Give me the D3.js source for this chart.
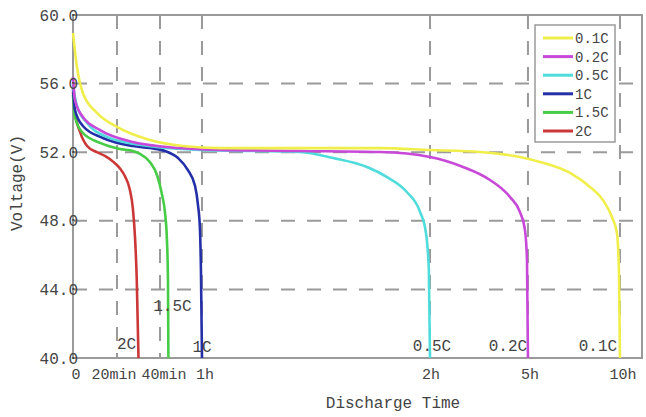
<!DOCTYPE html>
<html><head><meta charset="utf-8">
<script src="https://cdn.jsdelivr.net/npm/d3@7"></script>
<style>
html,body{margin:0;padding:0;background:#fff;}
svg{display:block;}
text{font-family:"Liberation Mono","DejaVu Sans Mono",monospace;fill:#444;}
</style></head>
<body><svg id="c" width="646" height="417"></svg>
<script>
// ---------- data ----------
const seriesNames = ["0.1C","0.2C","0.5C","1C","1.5C","2C"];
const seriesColors = ["#f0ee4a","#c848d8","#50dcdc","#2430a8","#46cc46","#cc3838"];
// [minutes, volts]
const v01C = [[0,58.95],[1.8,56.97],[4.5,55.45],[10.9,54.29],[20,53.47],[35.3,52.71],[51,52.36],[64.7,52.24],[85.8,52.24],[106.8,52.24],[120,52.13],[211.8,52.01],[285.3,51.72],[339.1,51.43],[436.9,50.79],[502.1,49.97],[544.5,49.21],[573.8,48.22],[590.1,47.29],[596.6,45.13],[600,40]];
const v02C = [[0,56.38],[0.9,55.04],[4.5,54.05],[12.3,53.29],[27.4,52.59],[43.3,52.3],[64.7,52.13],[85.8,52.07],[106.8,52.01],[120,51.72],[180.6,51.14],[230.2,50.38],[266.9,49.39],[285.3,48.51],[294.5,47.46],[298.2,45.71],[300,40]];
const v05C = [[0,55.86],[1.8,54.69],[6.4,53.7],[15.5,52.89],[31.2,52.42],[59,52.13],[85.8,52.01],[94.5,51.66],[103.4,51.14],[108.7,50.55],[113.9,49.68],[117.4,48.51],[118.9,47.35],[119.7,45.13],[120,40]];
const v1C  = [[0,55.74],[0.9,54.46],[4.5,53.53],[13.6,52.83],[27.4,52.36],[35.3,52.24],[42.4,52.07],[48.6,51.66],[53.3,50.96],[56.7,50.03],[58.1,48.92],[59.05,47.46],[59.5,45.13],[60,40]];
const v15C = [[0,55.34],[0.9,54.05],[4.1,53.18],[12.3,52.54],[21.4,52.19],[27.4,52.07],[30.7,51.9],[35.3,51.43],[38.6,50.67],[41.0,49.5],[42.4,48.45],[43.3,46.88],[43.8,44.55],[44.0,40]];
const v2C  = [[0,55.51],[0.9,54.34],[3.2,53.18],[6.4,52.36],[10.9,52.0],[14.5,51.78],[18.2,51.45],[21.4,51.05],[23.7,50.6],[26.0,49.8],[27.4,48.7],[28.4,47.0],[29.2,44.55],[30,40]];
const seriesValues = [v01C, v02C, v05C, v1C, v15C, v2C];

const yTicks = [40,44,48,52,56,60];
const xTickMinutes = [0,20,40,60,120,300,600];
const xTickLabels = ["0","20min","40min","1h","2h","5h","10h"];

// ---------- layout ----------
const W = 646, H = 417;
const M = {left:73, top:15, right:4, bottom:59};
const pw = W - M.left - M.right, ph = H - M.top - M.bottom;
// piecewise time axis: breakpoints and their fraction of plot width
const xDomain = [0,20,40,60,120,300,600,672];
const xFrac   = [0,0.0773,0.1529,0.2267,0.6274,0.7996,0.9613,1];
const xLabelDx = [3,-3,4,3,1,2,3];

const svg = d3.select("#c");
const x = d3.scaleLinear().domain(xDomain).range(xFrac.map(f => M.left + f*pw));
const y = d3.scaleLinear().domain([40,60]).range([M.top+ph, M.top]);

// grid
const grid = svg.append("g").attr("stroke","#9a9a9a").attr("stroke-width",2).attr("stroke-dasharray","14,12");
grid.selectAll("line.h").data(yTicks.filter(d=>d>40&&d<60)).enter().append("line")
  .attr("x1",M.left).attr("x2",M.left+pw).attr("y1",d=>y(d)).attr("y2",d=>y(d));
grid.selectAll("line.v").data(xTickMinutes.filter(d=>d>0)).enter().append("line")
  .attr("y1",M.top).attr("y2",M.top+ph).attr("x1",d=>x(d)).attr("x2",d=>x(d));

// frame
svg.append("rect").attr("x",M.left).attr("y",M.top).attr("width",pw).attr("height",ph)
  .attr("fill","none").attr("stroke","#9a9a9a").attr("stroke-width",2);

// curves
const line = d3.line().x(d=>x(d[0])).y(d=>y(d[1])).curve(d3.curveMonotoneX);
const order = [5,4,3,2,1,0];
svg.append("g").selectAll("path").data(order).enter().append("path")
  .attr("d",i=>line(seriesValues[i])).attr("fill","none")
  .attr("stroke",i=>seriesColors[i]).attr("stroke-width",2.6).attr("stroke-linejoin","round");

// y tick labels
svg.append("g").selectAll("text").data(yTicks).enter().append("text")
  .attr("x",M.left+5).attr("y",d=>y(d)).attr("dy","0.35em").attr("text-anchor","end")
  .attr("font-size",16).text(d=>d.toFixed(1));

// x tick labels
svg.append("g").selectAll("text").data(xTickMinutes).enter().append("text")
  .attr("x",(d,i)=>x(d)+xLabelDx[i]).attr("y",M.top+ph+16).attr("dy","0.35em").attr("text-anchor","middle")
  .attr("font-size",15).text((d,i)=>xTickLabels[i]);

// axis titles
svg.append("text").attr("x",393).attr("y",402).attr("dy","0.35em").attr("text-anchor","middle")
  .attr("font-size",16).text("Discharge Time");
svg.append("text").attr("transform","translate(16,"+(183)+") rotate(-90)").attr("dy","0.35em")
  .attr("text-anchor","middle").attr("font-size",16).text("Voltage(V)");

// inline curve labels (anchor offsets relative to each curve's end)
const inlineDx = [-22,-20,2,0,4,-12];
const inlineY  = [345,345,345,346,305,343];
svg.append("g").selectAll("text").data(d3.range(6)).enter().append("text")
  .attr("x",i=>x(seriesValues[i][seriesValues[i].length-1][0])+inlineDx[i])
  .attr("y",i=>inlineY[i]).attr("dy","0.35em").attr("text-anchor","middle")
  .attr("font-size",16).text(i=>seriesNames[i]);

// legend
const lg = svg.append("g");
lg.append("rect").attr("x",535).attr("y",25).attr("width",80).attr("height",117)
  .attr("fill","#fff").attr("stroke","#9a9a9a").attr("stroke-width",1.5);
const li = lg.selectAll("g").data(d3.range(6)).enter().append("g")
  .attr("transform",i=>"translate(543,"+(38+i*18.6)+")");
li.append("line").attr("x1",0).attr("x2",30).attr("stroke",i=>seriesColors[i]).attr("stroke-width",3);
li.append("text").attr("x",32).attr("dy","0.35em").attr("font-size",14).text(i=>seriesNames[i]);
</script></body></html>
